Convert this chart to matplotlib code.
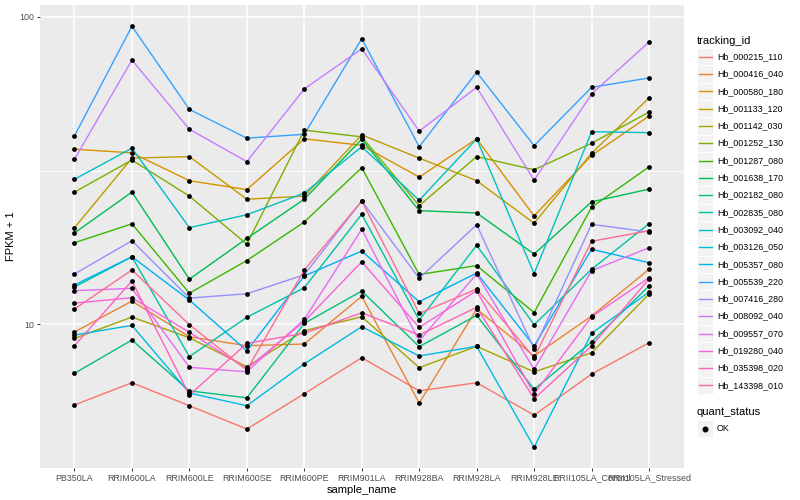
import matplotlib
matplotlib.use("Agg")
import matplotlib.pyplot as plt
from matplotlib.patches import Rectangle
from matplotlib.lines import Line2D
from matplotlib.ticker import FixedLocator, NullLocator

plt.rcParams['font.family'] = ['Liberation Sans', 'DejaVu Sans']

# x categories
samples = ['PB350LA', 'RRIM600LA', 'RRIM600LE', 'RRIM600SE', 'RRIM600PE', 'RRIM901LA',
           'RRIM928BA', 'RRIM928LA', 'RRIM928LE', 'RRII105LA_Control', 'RRII105LA_Stressed']

tracking_ids = ['Hb_000215_110', 'Hb_000416_040', 'Hb_000580_180', 'Hb_001133_120',
                'Hb_001142_030', 'Hb_001252_130', 'Hb_001287_080', 'Hb_001638_170',
                'Hb_002182_080', 'Hb_002835_080', 'Hb_003092_040', 'Hb_003126_050',
                'Hb_005357_080', 'Hb_005539_220', 'Hb_007416_280', 'Hb_008092_040',
                'Hb_009557_070', 'Hb_019280_040', 'Hb_035398_020', 'Hb_143398_010']

# ggplot hue palette, 20 levels
colors = ['#F8766D', '#EA8331', '#D89000', '#C09B00', '#A3A500', '#7CAE00', '#39B600',
          '#00BB4E', '#00BF7D', '#00C1A3', '#00BFC4', '#00BAE0', '#00B0F6', '#35A2FF',
          '#9590FF', '#C77CFF', '#E76BF3', '#FA62DB', '#FF62BC', '#FF6C91']

# FPKM + 1 per sample
hb_000215_110 = [5.45, 6.44, 5.42, 4.55, 5.93, 7.77, 6.06, 6.44, 5.05, 6.87, 8.69]
hb_000416_040 = [9.42, 11.88, 9.09, 8.50, 8.61, 12.31, 5.53, 11.19, 7.87, 10.62, 15.08]
hb_000580_180 = [37.1, 36.1, 29.3, 27.4, 40.1, 38.2, 30.1, 40.1, 22.5, 35.4, 47.6]
hb_001133_120 = [20.6, 34.7, 35.1, 25.5, 26.1, 41.3, 34.7, 29.3, 21.3, 36.0, 54.5]
hb_001142_030 = [8.98, 10.54, 9.02, 7.26, 9.51, 10.56, 7.21, 8.46, 6.99, 8.06, 12.52]
hb_001252_130 = [26.9, 34.2, 26.1, 18.2, 42.8, 40.7, 24.3, 35.1, 31.8, 38.8, 49.0]
hb_001287_080 = [18.4, 21.2, 12.6, 16.1, 21.5, 32.3, 14.5, 15.5, 10.9, 24.0, 32.5]
hb_001638_170 = [19.8, 26.9, 14.0, 19.0, 25.5, 40.0, 23.4, 23.0, 16.9, 25.0, 27.5]
hb_002182_080 = [6.91, 8.87, 6.06, 5.75, 10.05, 12.81, 8.44, 10.67, 6.13, 8.74, 13.30]
hb_002835_080 = [13.2, 16.56, 7.83, 10.52, 13.13, 22.77, 10.30, 18.05, 9.95, 15.08, 21.22]
hb_003092_040 = [29.6, 37.4, 20.6, 22.7, 26.7, 37.8, 25.3, 40.1, 14.6, 42.3, 42.0]
hb_003126_050 = [9.21, 9.90, 5.96, 5.42, 7.42, 9.80, 7.87, 8.46, 3.97, 9.33, 12.71]
hb_005357_080 = [13.40, 16.56, 11.97, 8.18, 14.34, 17.29, 11.82, 14.66, 8.48, 17.52, 15.84]
hb_005539_220 = [41.0, 93.3, 50.0, 40.3, 41.5, 85.0, 37.8, 66.1, 38.1, 59.0, 63.3]
hb_007416_280 = [14.55, 18.68, 12.15, 12.55, 14.47, 25.16, 14.09, 21.06, 8.31, 21.12, 19.94]
hb_008092_040 = [34.4, 72.4, 43.1, 33.8, 58.3, 78.8, 42.5, 59.0, 29.4, 56.1, 82.9]
hb_009557_070 = [12.84, 13.07, 7.23, 6.99, 10.36, 20.35, 8.82, 14.55, 7.12, 14.92, 17.72]
hb_019280_040 = [11.70, 12.18, 9.40, 7.15, 10.20, 15.95, 9.75, 12.84, 5.92, 10.56, 14.15]
hb_035398_020 = [8.50, 13.81, 5.87, 8.65, 9.33, 10.88, 9.21, 11.33, 5.71, 8.48, 14.01]
hb_143398_010 = [11.19, 15.0, 9.95, 7.08, 15.0, 25.16, 10.83, 13.0, 7.77, 18.6, 20.13]

series = [hb_000215_110, hb_000416_040, hb_000580_180, hb_001133_120, hb_001142_030,
          hb_001252_130, hb_001287_080, hb_001638_170, hb_002182_080, hb_002835_080,
          hb_003092_040, hb_003126_050, hb_005357_080, hb_005539_220, hb_007416_280,
          hb_008092_040, hb_009557_070, hb_019280_040, hb_035398_020, hb_143398_010]

W, H = 800, 500


def fx(x):
    return x / W


def fy(y):
    return 1 - y / H


fig = plt.figure(figsize=(8, 5), dpi=100)
fig.patch.set_facecolor('white')

# panel in pixel terms: left 40, right 683.5, top 5, bottom 468.3
ax = fig.add_axes([fx(40), fy(468.3), (683.5 - 40) / W, (468.3 - 5) / H])
ax.set_facecolor('#EBEBEB')
for s in ax.spines.values():
    s.set_visible(False)

xs = list(range(len(samples)))
ax.set_yscale('log')
ax.set_xlim(-0.6, len(samples) - 0.4)
ax.set_ylim(3.39, 109.4)

# grid (ggplot grey theme)
for v in [3.1623, 31.623]:
    ax.axhline(v, color='white', lw=0.55, zorder=0)
for v in [10, 100]:
    ax.axhline(v, color='white', lw=1.1, zorder=0)
for x in xs:
    ax.axvline(x, color='white', lw=1.1, zorder=0)

for vals, col in zip(series, colors):
    ax.plot(xs, vals, color=col, lw=1.0, zorder=2)
for vals in series:
    ax.scatter(xs, vals, s=12, color='black', zorder=3, linewidths=0)

ax.yaxis.set_major_locator(FixedLocator([10, 100]))
ax.yaxis.set_minor_locator(NullLocator())
ax.set_yticklabels(['10', '100'])
ax.set_xticks(xs)
ax.set_xticklabels(samples)
ax.tick_params(axis='both', length=2.0, width=0.7, color='#333333',
               labelsize=6.4, labelcolor='#4D4D4D', pad=1.8)

ax.set_xlabel('sample_name', fontsize=8, labelpad=1.5)
ax.set_ylabel('FPKM + 1', fontsize=8, labelpad=3)

# legend drawn by hand, ggplot style
step = 17.3
key_x0, key_w = 697, 16
txt_x = 717
fig.text(fx(696.5), fy(40.7), 'tracking_id', fontsize=8, va='center', ha='left')
for i, (tid, col) in enumerate(zip(tracking_ids, colors)):
    c = 56.7 + i * step
    fig.patches.append(Rectangle((fx(key_x0), fy(c + step / 2)), key_w / W, step / H,
                                 transform=fig.transFigure, facecolor='#F2F2F2',
                                 edgecolor='white', lw=0.6))
    fig.lines.append(Line2D([fx(key_x0 + 1.5), fx(key_x0 + key_w - 1.5)], [fy(c), fy(c)],
                            transform=fig.transFigure, color=col, lw=1.0))
    fig.text(fx(txt_x), fy(c), tid, fontsize=6.4, va='center', ha='left')

fig.text(fx(696.5), fy(412.3), 'quant_status', fontsize=8, va='center', ha='left')
c = 428.6
fig.patches.append(Rectangle((fx(key_x0), fy(c + step / 2)), key_w / W, step / H,
                             transform=fig.transFigure, facecolor='#F2F2F2',
                             edgecolor='white', lw=0.6))
fig.lines.append(Line2D([fx(key_x0 + key_w / 2)], [fy(c)], transform=fig.transFigure,
                        marker='o', markersize=3.3, color='black', lw=0))
fig.text(fx(txt_x), fy(c), 'OK', fontsize=6.4, va='center', ha='left')

fig.savefig('out.png', dpi=100)
